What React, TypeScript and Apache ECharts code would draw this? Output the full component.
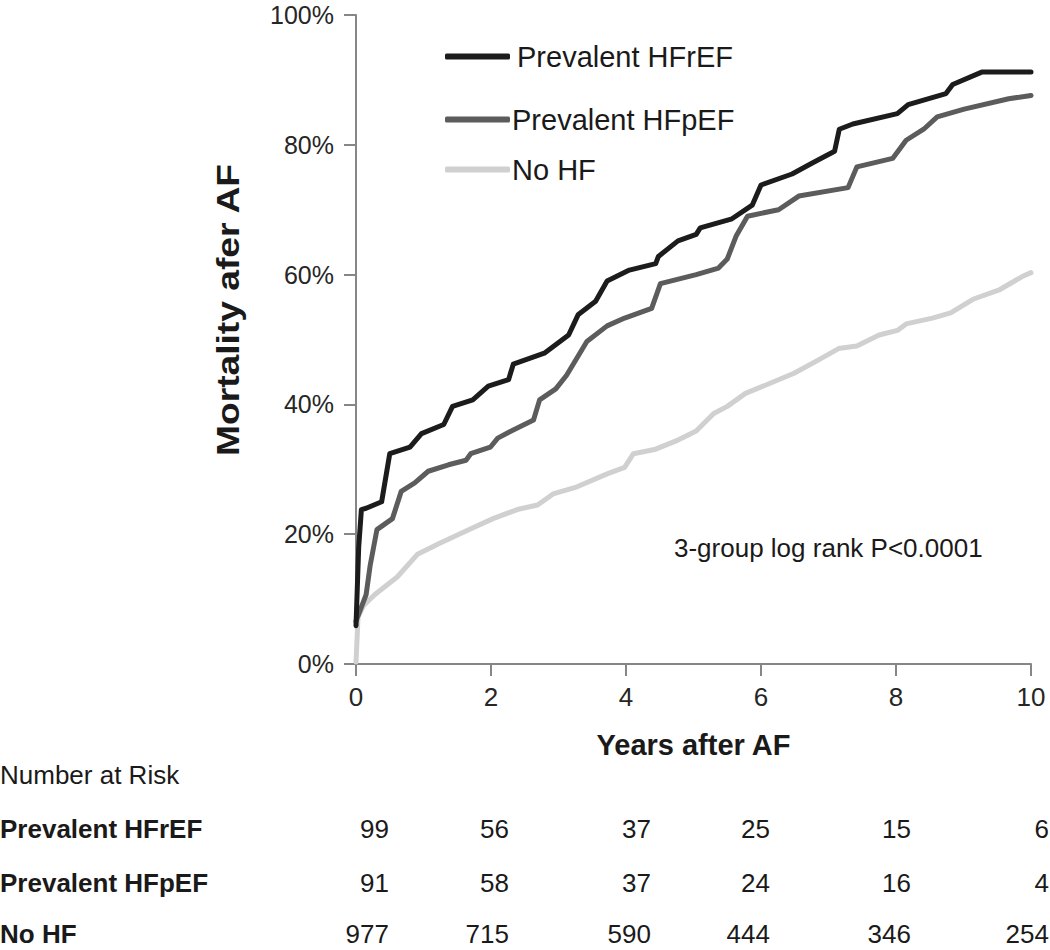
import React, { useEffect, useRef } from "react";
import * as echarts from "echarts";

// ---- Data ----
const seriesNames = ["Prevalent HFrEF", "Prevalent HFpEF", "No HF"];

const hfrefCurve: number[][] = [
  [0, 5.9], [0.04, 18], [0.08, 23.8], [0.15, 24], [0.38, 25], [0.5, 32.4], [0.8, 33.4],
  [0.97, 35.5], [1.3, 36.9], [1.43, 39.7], [1.73, 40.7], [1.96, 42.8], [2.26, 43.8],
  [2.33, 46.2], [2.79, 47.9], [3.15, 50.7], [3.29, 53.8], [3.55, 55.9], [3.72, 59],
  [4.05, 60.7], [4.44, 61.7], [4.48, 62.8], [4.77, 65.2], [5.04, 66.2], [5.1, 67.2],
  [5.57, 68.6], [5.87, 70.7], [6.0, 73.8], [6.46, 75.5], [6.76, 77.2], [7.09, 79],
  [7.16, 82.4], [7.36, 83.2], [8.02, 84.8], [8.18, 86.2], [8.74, 87.9], [8.84, 89.3],
  [9.27, 91.2], [10, 91.2],
];

const hfpefCurve: number[][] = [
  [0, 6.6], [0.15, 10.7], [0.21, 15.2], [0.31, 20.7], [0.54, 22.4], [0.67, 26.6],
  [0.87, 27.9], [1.07, 29.7], [1.37, 30.7], [1.63, 31.4], [1.7, 32.4], [1.99, 33.4],
  [2.1, 34.8], [2.3, 35.9], [2.63, 37.6], [2.72, 40.7], [2.96, 42.4], [3.12, 44.5],
  [3.42, 49.7], [3.72, 52.1], [3.98, 53.3], [4.38, 54.8], [4.51, 58.6], [5.04, 60],
  [5.37, 61], [5.5, 62.4], [5.63, 65.9], [5.8, 69], [6.26, 70], [6.56, 72.1],
  [7.29, 73.4], [7.42, 76.6], [7.95, 77.9], [8.15, 80.7], [8.41, 82.4], [8.61, 84.3],
  [9.01, 85.5], [9.67, 87.1], [10, 87.6],
];

const noHfCurve: number[][] = [
  [0, 0.3], [0.03, 7.2], [0.11, 9], [0.28, 10.7], [0.61, 13.4], [0.91, 16.9],
  [1.24, 18.6], [1.67, 20.7], [2.03, 22.4], [2.39, 23.8], [2.69, 24.5], [2.92, 26.2],
  [3.25, 27.2], [3.72, 29.3], [3.98, 30.3], [4.11, 32.4], [4.44, 33.1], [4.77, 34.5],
  [5.04, 35.9], [5.3, 38.6], [5.5, 39.7], [5.77, 41.7], [6.1, 43.1], [6.49, 44.8],
  [6.86, 46.9], [7.15, 48.6], [7.42, 49], [7.75, 50.7], [8.02, 51.4], [8.15, 52.4],
  [8.54, 53.3], [8.81, 54.1], [9.14, 56.2], [9.54, 57.7], [9.87, 59.7], [10, 60.3],
];

const riskTitle = "Number at Risk";
const riskHFrEF = [99, 56, 37, 25, 15, 6];
const riskHFpEF = [91, 58, 37, 24, 16, 4];
const riskNoHF = [977, 715, 590, 444, 346, 254];

const annotationText = "3-group log rank P<0.0001";
const xAxisTitle = "Years after AF";
const yAxisTitle = "Mortality afer AF";

// ---- Layout / style ----
const FONT = "'Liberation Sans', Arial, Helvetica, sans-serif";
const TEXT = "#1a1a1a";
const AXIS = "#868686";
const colors = ["#1c1c1c", "#5c5c5c", "#d0d0d0"];
const riskColX = [389, 509, 651, 770, 911, 1049];
const riskRowY = [829, 883, 934];

export default function App() {
  const ref = useRef<HTMLDivElement>(null);

  useEffect(() => {
    if (!ref.current) return;
    const chart = echarts.init(ref.current, null, { renderer: "svg" });

    const curves = [hfrefCurve, hfpefCurve, noHfCurve];
    const riskRows = [riskHFrEF, riskHFpEF, riskNoHF];

    const graphics: any[] = [];
    graphics.push({
      type: "text",
      x: 0,
      y: 775,
      style: {
        text: riskTitle,
        font: `26px ${FONT}`,
        fill: TEXT,
        verticalAlign: "middle",
        align: "left",
      },
    });
    riskRows.forEach((row, r) => {
      graphics.push({
        type: "text",
        x: 0,
        y: riskRowY[r],
        style: {
          text: seriesNames[r],
          font: `bold 26px ${FONT}`,
          fill: TEXT,
          verticalAlign: "middle",
          align: "left",
        },
      });
      row.forEach((v, c) => {
        graphics.push({
          type: "text",
          x: riskColX[c],
          y: riskRowY[r],
          style: {
            text: String(v),
            font: `26px ${FONT}`,
            fill: TEXT,
            verticalAlign: "middle",
            align: "right",
          },
        });
      });
    });
    graphics.push({
      type: "text",
      x: 674,
      y: 548,
      style: {
        text: annotationText,
        font: `26px ${FONT}`,
        fill: TEXT,
        verticalAlign: "middle",
        align: "left",
      },
    });
    graphics.push({
      type: "text",
      x: 228,
      y: 310,
      rotation: Math.PI / 2,
      scaleX: 1.2,
      style: {
        text: yAxisTitle,
        font: `bold 31px ${FONT}`,
        fill: TEXT,
        verticalAlign: "middle",
        align: "center",
      },
    });

    const legendTops = [42, 105, 155];
    const legendGaps = [7, 2, 2];

    chart.setOption({
      animation: false,
      backgroundColor: "#ffffff",
      grid: { left: 356, right: 19, top: 15, bottom: 286, containLabel: false },
      legend: seriesNames.map((n, i) => ({
        data: [n],
        left: 445,
        top: legendTops[i],
        orient: "vertical",
        icon: "roundRect",
        itemWidth: 65,
        itemHeight: 6,
        padding: 0,
        selectedMode: false,
        textStyle: {
          fontFamily: FONT,
          fontSize: 29,
          color: TEXT,
          padding: [0, 0, 0, legendGaps[i] - 5],
        },
      })),
      xAxis: {
        type: "value",
        min: 0,
        max: 10,
        interval: 2,
        name: xAxisTitle,
        nameLocation: "middle",
        nameGap: 66,
        nameTextStyle: { fontFamily: FONT, fontSize: 29, fontWeight: "bold", color: TEXT },
        axisLine: { show: true, lineStyle: { color: AXIS, width: 2 } },
        axisTick: { show: true, length: 12, lineStyle: { color: AXIS, width: 2 } },
        axisLabel: { fontFamily: FONT, fontSize: 26, color: "#262626", margin: 20 },
        splitLine: { show: false },
      },
      yAxis: {
        type: "value",
        min: 0,
        max: 100,
        interval: 20,
        axisLine: { show: true, lineStyle: { color: AXIS, width: 2 } },
        axisTick: { show: true, length: 12, lineStyle: { color: AXIS, width: 2 } },
        axisLabel: {
          fontFamily: FONT,
          fontSize: 25,
          color: "#262626",
          margin: 22,
          formatter: "{value}%",
        },
        splitLine: { show: false },
      },
      series: seriesNames.map((n, i) => ({
        name: n,
        type: "line",
        data: curves[i],
        showSymbol: false,
        symbol: "none",
        z: 4 - i,
        color: colors[i],
        lineStyle: { color: colors[i], width: 5, join: "round", cap: "round" },
      })),
      graphic: graphics,
    });

    return () => chart.dispose();
  }, []);

  return (
    <div
      ref={ref}
      style={{ position: "fixed", left: 0, top: 0, width: 1050, height: 950, background: "#fff" }}
    />
  );
}
